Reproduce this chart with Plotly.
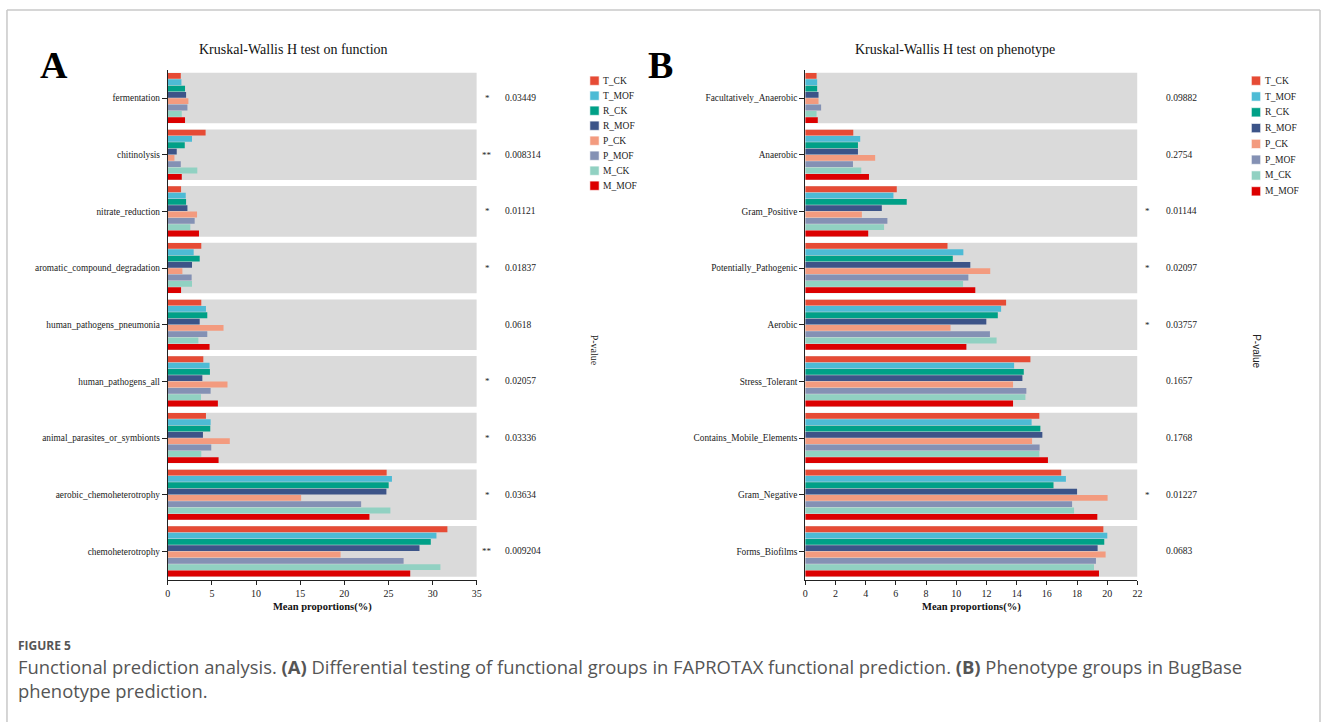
import plotly.graph_objects as go

W, H = 1328, 722

groups = ["T_CK", "T_MOF", "R_CK", "R_MOF", "P_CK", "P_MOF", "M_CK", "M_MOF"]
colors = ["#E64B35", "#4DBBD5", "#00A087", "#3C5488", "#F39B7F", "#8491B4", "#91D1C2", "#DC0000"]

# ---------------- Panel A: FAPROTAX functions ----------------
func_cats = ["fermentation", "chitinolysis", "nitrate_reduction", "aromatic_compound_degradation",
             "human_pathogens_pneumonia", "human_pathogens_all", "animal_parasites_or_symbionts",
             "aerobic_chemoheterotrophy", "chemoheterotrophy"]
func_pvalues = ["0.03449", "0.008314", "0.01121", "0.01837", "0.0618", "0.02057", "0.03336", "0.03634", "0.009204"]
func_stars = ["*", "**", "*", "*", "", "*", "*", "*", "**"]

func_T_CK = [1.47, 4.28, 1.50, 3.79, 3.79, 4.02, 4.32, 24.79, 31.67]
func_T_MOF = [1.54, 2.74, 2.03, 2.93, 4.32, 4.73, 4.85, 25.39, 30.43]
func_R_CK = [1.95, 1.92, 2.07, 3.61, 4.47, 4.77, 4.81, 25.02, 29.79]
func_R_MOF = [2.07, 1.01, 2.22, 2.74, 3.61, 3.91, 3.98, 24.76, 28.51]
func_P_CK = [2.33, 0.75, 3.31, 1.65, 6.31, 6.76, 7.02, 15.10, 19.57]
func_P_MOF = [2.22, 1.47, 3.04, 2.70, 4.47, 4.85, 4.92, 21.90, 26.71]
func_M_CK = [1.58, 3.34, 2.55, 2.74, 3.46, 3.76, 3.79, 25.21, 30.88]
func_M_MOF = [1.95, 1.58, 3.53, 1.50, 4.73, 5.67, 5.75, 22.84, 27.46]
func_values = [func_T_CK, func_T_MOF, func_R_CK, func_R_MOF, func_P_CK, func_P_MOF, func_M_CK, func_M_MOF]
func_xticks = [0, 5, 10, 15, 20, 25, 30, 35]

# ---------------- Panel B: BugBase phenotypes ----------------
pheno_cats = ["Facultatively_Anaerobic", "Anaerobic", "Gram_Positive", "Potentially_Pathogenic", "Aerobic",
              "Stress_Tolerant", "Contains_Mobile_Elements", "Gram_Negative", "Forms_Biofilms"]
pheno_pvalues = ["0.09882", "0.2754", "0.01144", "0.02097", "0.03757", "0.1657", "0.1768", "0.01227", "0.0683"]
pheno_stars = ["", "", "*", "*", "*", "", "", "*", ""]

pheno_T_CK = [0.75, 3.18, 6.06, 9.42, 13.30, 14.91, 15.50, 16.95, 19.74]
pheno_T_MOF = [0.79, 3.64, 5.84, 10.47, 12.97, 13.83, 14.99, 17.26, 20.00]
pheno_R_CK = [0.79, 3.49, 6.72, 9.77, 12.75, 14.47, 15.57, 16.44, 19.80]
pheno_R_MOF = [0.88, 3.49, 5.07, 10.93, 11.99, 14.38, 15.70, 18.00, 19.36]
pheno_P_CK = [0.88, 4.63, 3.75, 12.25, 9.62, 13.76, 15.02, 20.02, 19.89]
pheno_P_MOF = [1.05, 3.16, 5.44, 10.80, 12.23, 14.64, 15.52, 17.67, 19.25]
pheno_M_CK = [0.75, 3.71, 5.22, 10.45, 12.67, 14.58, 15.50, 17.80, 19.12]
pheno_M_MOF = [0.83, 4.22, 4.17, 11.26, 10.67, 13.76, 16.07, 19.34, 19.45]
pheno_values = [pheno_T_CK, pheno_T_MOF, pheno_R_CK, pheno_R_MOF, pheno_P_CK, pheno_P_MOF, pheno_M_CK, pheno_M_MOF]
pheno_xticks = [0, 2, 4, 6, 8, 10, 12, 14, 16, 18, 20, 22]


def px(x):
    return x / W


def py(y):
    return 1 - y / H


SERIF = "Liberation Serif, Times New Roman, serif"
SANS = "Liberation Sans, Arial, sans-serif"

fig = go.Figure()

for gi, g in enumerate(groups):
    fig.add_trace(go.Bar(x=func_values[gi], y=func_cats, orientation="h", name=g,
                         marker=dict(color=colors[gi], line=dict(width=0)),
                         xaxis="x", yaxis="y", showlegend=False))
for gi, g in enumerate(groups):
    fig.add_trace(go.Bar(x=pheno_values[gi], y=pheno_cats, orientation="h", name=g,
                         marker=dict(color=colors[gi], line=dict(width=0)),
                         xaxis="x2", yaxis="y2", showlegend=False))

ydom = [py(579.7), py(69.7)]
axis_common = dict(showline=True, linecolor="#222", linewidth=1, ticks="outside", tickcolor="#222",
                   showgrid=False, zeroline=False)
xtickfont = dict(family=SERIF, size=10, color="#222")
ytickfont = dict(family=SERIF, size=9.3, color="#1a1a1a")

fig.update_layout(
    width=W, height=H, autosize=False,
    margin=dict(l=0, r=0, t=0, b=0),
    paper_bgcolor="white", plot_bgcolor="white",
    barmode="group", bargap=0.108, bargroupgap=0.08,
    xaxis=dict(domain=[px(166.7), px(477.3)], range=[0, 35], anchor="y", tickvals=func_xticks,
               ticklen=4, tickfont=xtickfont,
               title=dict(text="<b>Mean proportions(%)</b>", standoff=4,
                          font=dict(family=SERIF, size=10.5, color="#111")),
               **axis_common),
    yaxis=dict(domain=ydom, type="category", categoryorder="array", categoryarray=func_cats,
               range=[8.5, -0.5], anchor="x", ticklen=5, tickfont=ytickfont, **axis_common),
    xaxis2=dict(domain=[px(807.5), px(1141.5)], range=[0, 22], anchor="y2", tickvals=pheno_xticks,
                ticklen=4, tickfont=xtickfont,
                title=dict(text="<b>Mean proportions(%)</b>", standoff=4,
                           font=dict(family=SERIF, size=10.5, color="#111")),
                **axis_common),
    yaxis2=dict(domain=ydom, type="category", categoryorder="array", categoryarray=pheno_cats,
                range=[8.5, -0.5], anchor="x2", ticklen=5, tickfont=ytickfont, **axis_common),
)

shapes = []
# grey background bands
for i in range(len(func_cats)):
    shapes.append(dict(type="rect", xref="x", yref="y", x0=0, x1=35, y0=i - 0.446, y1=i + 0.446,
                       fillcolor="#DADADA", line=dict(width=0), layer="below"))
for i in range(len(pheno_cats)):
    shapes.append(dict(type="rect", xref="x2", yref="y2", x0=0, x1=22, y0=i - 0.446, y1=i + 0.446,
                       fillcolor="#DADADA", line=dict(width=0), layer="below"))

# outer frame
for (x0, y0, x1, y1) in [(5, 10, 5, 722), (5, 10, 1325, 10), (1325, 10, 1325, 722)]:
    shapes.append(dict(type="line", xref="paper", yref="paper", x0=px(x0), x1=px(x1), y0=py(y0), y1=py(y1),
                       line=dict(color="#C8C8C8", width=1.5)))

annotations = []

# legends
for (lx, ly0, step) in [(591, 80.7, 15.0), (1256, 80.7, 15.8)]:
    for gi, g in enumerate(groups):
        cy = ly0 + gi * step
        shapes.append(dict(type="rect", xref="paper", yref="paper", x0=px(lx), x1=px(lx + 9.3),
                           y0=py(cy + 4.6), y1=py(cy - 4.6), fillcolor=colors[gi],
                           line=dict(width=0.6, color="white")))
        annotations.append(dict(text=g, xref="paper", yref="paper", x=px(lx + 11.5), y=py(cy),
                                xanchor="left", yanchor="middle", showarrow=False,
                                font=dict(family=SERIF, size=9.5, color="#222")))

# p-values
for i, c in enumerate(func_cats):
    if func_stars[i]:
        annotations.append(dict(text=func_stars[i], xref="paper", yref="y", x=px(488), y=c, xanchor="center",
                                yanchor="middle", showarrow=False, font=dict(family=SERIF, size=9, color="#222")))
    annotations.append(dict(text=func_pvalues[i], xref="paper", yref="y", x=px(504), y=c, xanchor="left",
                            yanchor="middle", showarrow=False, font=dict(family=SERIF, size=9.5, color="#222")))
for i, c in enumerate(pheno_cats):
    if pheno_stars[i]:
        annotations.append(dict(text=pheno_stars[i], xref="paper", yref="y2", x=px(1152), y=c, xanchor="center",
                                yanchor="middle", showarrow=False, font=dict(family=SERIF, size=9, color="#222")))
    annotations.append(dict(text=pheno_pvalues[i], xref="paper", yref="y2", x=px(1168), y=c, xanchor="left",
                            yanchor="middle", showarrow=False, font=dict(family=SERIF, size=9.5, color="#222")))

# P-value axis labels
annotations.append(dict(text="P-value", xref="paper", yref="paper", x=px(596.5), y=py(350), textangle=90,
                        showarrow=False, xanchor="center", yanchor="middle",
                        font=dict(family=SERIF, size=10, color="#222")))
annotations.append(dict(text="P-value", xref="paper", yref="paper", x=px(1261.5), y=py(351), textangle=90,
                        showarrow=False, xanchor="center", yanchor="middle",
                        font=dict(family=SANS, size=10, color="#222")))

# titles
annotations.append(dict(text="Kruskal-Wallis H test on function", xref="paper", yref="paper", x=px(293),
                        y=py(49), showarrow=False, xanchor="center", yanchor="middle",
                        font=dict(family=SERIF, size=14, color="#111")))
annotations.append(dict(text="Kruskal-Wallis H test on phenotype", xref="paper", yref="paper", x=px(958),
                        y=py(49), showarrow=False, xanchor="center", yanchor="middle",
                        font=dict(family=SERIF, size=14, color="#111")))

# panel letters
annotations.append(dict(text="<b>A</b>", xref="paper", yref="paper", x=px(52.5), y=py(65), showarrow=False,
                        xanchor="center", yanchor="middle", font=dict(family=SERIF, size=38, color="#000")))
annotations.append(dict(text="<b>B</b>", xref="paper", yref="paper", x=px(662), y=py(65), showarrow=False,
                        xanchor="center", yanchor="middle", font=dict(family=SERIF, size=38, color="#000")))

# caption
annotations.append(dict(text="<b>FIGURE 5</b>", xref="paper", yref="paper", x=px(14), y=py(645), showarrow=False,
                        xanchor="left", yanchor="middle", font=dict(family="Open Sans", size=12, color="#555")))
annotations.append(dict(text="Functional prediction analysis. <b>(A)</b> Differential testing of functional groups "
                             "in FAPROTAX functional prediction. <b>(B)</b> Phenotype groups in BugBase",
                        xref="paper", yref="paper", x=px(14), y=py(666), showarrow=False,
                        xanchor="left", yanchor="middle", font=dict(family="Open Sans", size=18.4, color="#555")))
annotations.append(dict(text="phenotype prediction.", xref="paper", yref="paper", x=px(14), y=py(690),
                        showarrow=False, xanchor="left", yanchor="middle",
                        font=dict(family="Open Sans", size=18.4, color="#555")))

fig.update_layout(shapes=shapes, annotations=annotations)

fig.write_html("out.html", config={"displayModeBar": False},
               post_script="document.body.style.margin='0';document.body.style.overflow='hidden';")
